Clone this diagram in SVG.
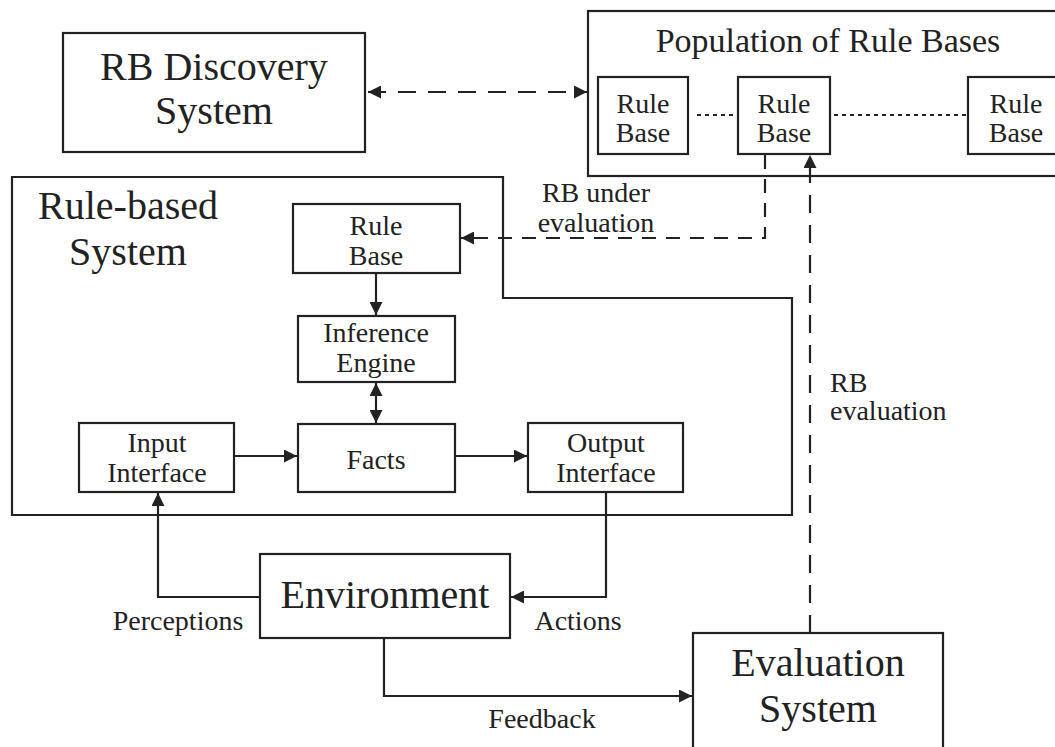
<svg xmlns="http://www.w3.org/2000/svg" width="1055" height="747" viewBox="0 0 1055 747">
<defs>
<style>
.box{fill:#fff;stroke:#222;stroke-width:2.2}
.ln{fill:none;stroke:#222;stroke-width:2.2}
.dash{fill:none;stroke:#222;stroke-width:2.2;stroke-dasharray:18 12}
.dot{fill:none;stroke:#222;stroke-width:2;stroke-dasharray:4 4}
text{font-family:"Liberation Serif","Times New Roman",serif;fill:#222;text-anchor:middle}
.big{font-size:40px}
.mid{font-size:34px}
.sm{font-size:28px}
.lbl{font-size:28px}
</style>
<marker id="ah" viewBox="0 0 12 12" refX="12" refY="6" markerWidth="13" markerHeight="13" markerUnits="userSpaceOnUse" orient="auto-start-reverse">
<path d="M0,0 L12,6 L0,12 z" fill="#222"/>
</marker>
</defs>
<rect width="1055" height="747" fill="#fff"/>

<g id="rb-discovery">
<rect class="box" x="63" y="33" width="302" height="119"/>
<text class="big" x="214" y="80">RB Discovery</text>
<text class="big" x="214" y="124">System</text>
</g>

<g id="population">
<rect class="box" x="588" y="11" width="480" height="165"/>
<text class="mid" x="828" y="52">Population of Rule Bases</text>
</g>
<g id="rule-base-1">
<rect class="box" x="598" y="77" width="90" height="77"/>
<text class="sm" x="643" y="113">Rule</text>
<text class="sm" x="643" y="142">Base</text>
</g>
<g id="rule-base-2">
<rect class="box" x="738" y="77" width="92" height="77"/>
<text class="sm" x="784" y="113">Rule</text>
<text class="sm" x="784" y="142">Base</text>
</g>
<g id="rule-base-3">
<rect class="box" x="968" y="77" width="96" height="77"/>
<text class="sm" x="1016" y="113">Rule</text>
<text class="sm" x="1016" y="142">Base</text>
</g>

<g id="rule-based-system">
<path class="ln" d="M12,177 H503 V298 H792 V515 H12 Z" fill="#fff"/>
<text class="big" x="128" y="219">Rule-based</text>
<text class="big" x="128" y="265">System</text>
</g>

<g id="rule-base-inner">
<rect class="box" x="293" y="204" width="167" height="69"/>
<text class="sm" x="376" y="235">Rule</text>
<text class="sm" x="376" y="265">Base</text>
</g>

<g id="inference-engine">
<rect class="box" x="298" y="316" width="157" height="66"/>
<text class="sm" x="376" y="342">Inference</text>
<text class="sm" x="376" y="372">Engine</text>
</g>

<g id="facts">
<rect class="box" x="298" y="424" width="157" height="68"/>
<text class="sm" x="376" y="469">Facts</text>
</g>

<g id="input-interface">
<rect class="box" x="79" y="423" width="155" height="69"/>
<text class="sm" x="157" y="452">Input</text>
<text class="sm" x="157" y="482">Interface</text>
</g>

<g id="output-interface">
<rect class="box" x="528" y="423" width="155" height="69"/>
<text class="sm" x="606" y="452">Output</text>
<text class="sm" x="606" y="482">Interface</text>
</g>

<g id="environment">
<rect class="box" x="260" y="554" width="250" height="84"/>
<text class="big" x="385" y="608">Environment</text>
</g>

<g id="evaluation-system">
<rect class="box" x="693" y="633" width="250" height="130"/>
<text class="big" x="818" y="676">Evaluation</text>
<text class="big" x="818" y="722">System</text>
</g>

<g id="connectors">
<line class="dash" x1="368" y1="92" x2="587" y2="92" marker-start="url(#ah)" marker-end="url(#ah)"/>
<line class="dot" x1="697" y1="115" x2="735" y2="115"/>
<line class="dot" x1="834" y1="115" x2="966" y2="115"/>
<polyline class="dash" points="765,155 765,238 461,238" marker-end="url(#ah)" style="stroke-dasharray:14 10"/>
<line class="ln" x1="376" y1="273" x2="376" y2="315" marker-end="url(#ah)"/>
<line class="ln" x1="376" y1="383" x2="376" y2="423" marker-start="url(#ah)" marker-end="url(#ah)"/>
<line class="ln" x1="234" y1="456" x2="297" y2="456" marker-end="url(#ah)"/>
<line class="ln" x1="455" y1="456" x2="527" y2="456" marker-end="url(#ah)"/>
<polyline class="ln" points="260,597 158,597 158,493" marker-end="url(#ah)"/>
<polyline class="ln" points="606,492 606,597 511,597" marker-end="url(#ah)"/>
<polyline class="ln" points="384,638 384,696 692,696" marker-end="url(#ah)"/>
<line class="dash" x1="810" y1="633" x2="810" y2="155" marker-end="url(#ah)"/>
</g>

<g id="labels">
<text class="lbl" x="596" y="202">RB under</text>
<text class="lbl" x="596" y="232">evaluation</text>
<text class="lbl" x="830" y="392" style="text-anchor:start">RB</text>
<text class="lbl" x="830" y="420" style="text-anchor:start">evaluation</text>
<text class="lbl" x="178" y="630">Perceptions</text>
<text class="lbl" x="578" y="630">Actions</text>
<text class="lbl" x="542" y="728">Feedback</text>
</g>
</svg>
